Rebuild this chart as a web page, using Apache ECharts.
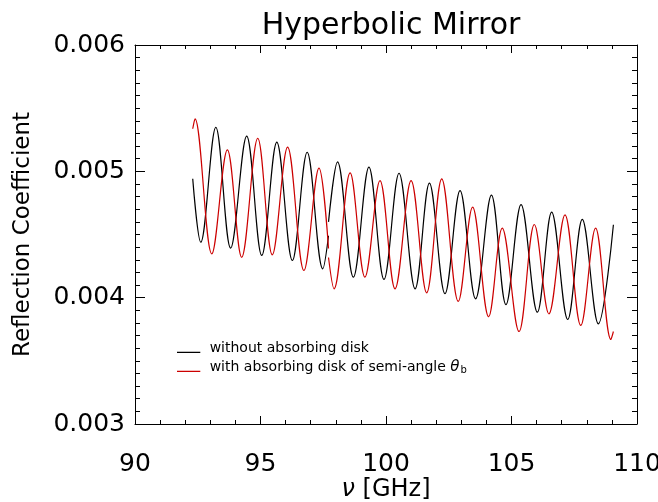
<!DOCTYPE html>
<html>
<head>
<meta charset="utf-8">
<script src="https://cdn.jsdelivr.net/npm/echarts@6/dist/echarts.min.js"></script>
<style>
html,body{margin:0;padding:0;background:#fff;}
#chart{width:658px;height:502px;}
</style>
</head>
<body>
<div id="chart"></div>
<script>
// ---- data ----
var chartTitle = 'Hyperbolic Mirror';
var xName = '{i|ν} [GHz]';
var yName = 'Reflection Coefficient';
var nameWithout = 'without absorbing disk';
var nameWith = 'with absorbing disk of semi-angle θb';

// black curve (without absorbing disk): frequency [GHz] / reflection coefficient
var freqWithout = [92.30, 92.62, 93.22, 93.81, 94.45, 95.05, 95.65, 96.27, 96.86, 97.48, 97.71,
  97.71, 97.71, 98.07, 98.70, 99.32, 99.92, 100.52, 101.16, 101.73, 102.35, 102.95, 103.57,
  104.20, 104.78, 105.38, 106.03, 106.60, 107.24, 107.82, 108.46, 109.06];
var reflWithout = [0.004941, 0.004439, 0.005349, 0.004392, 0.005278, 0.004334, 0.005231, 0.004294, 0.005151, 0.004228, 0.004490,
  null, 0.004600, 0.005075, 0.004162, 0.005033, 0.004144, 0.004985, 0.004070, 0.004906, 0.004031, 0.004848, 0.003991,
  0.004811, 0.003944, 0.004737, 0.003885, 0.004677, 0.003827, 0.004619, 0.003793, 0.004577];

// red curve (with absorbing disk)
var freqWith = [92.30, 92.39, 93.06, 93.68, 94.25, 94.89, 95.47, 96.08, 96.73, 97.33, 97.71,
  97.71, 97.71, 97.93, 98.57, 99.16, 99.76, 100.36, 101.00, 101.62, 102.22, 102.88, 103.45,
  104.09, 104.63, 105.30, 105.91, 106.49, 107.13, 107.76, 108.35, 108.96, 109.06];
var reflWith = [0.005337, 0.005416, 0.004347, 0.005170, 0.004320, 0.005262, 0.004339, 0.005191, 0.004215, 0.005025, 0.004389,
  null, 0.004318, 0.004070, 0.004988, 0.004162, 0.004927, 0.004070, 0.004927, 0.004038, 0.004941, 0.003970, 0.004716,
  0.003849, 0.004550, 0.003732, 0.004579, 0.003872, 0.004656, 0.003780, 0.004550, 0.003669, 0.003732];

var xTickMin = 90, xTickMax = 110, xTickStep = 5;
var yTickMin = 0.003, yTickMax = 0.006, yTickStep = 0.001;

function pairs(xs, ys) {
  return xs.map(function (x, i) { return [x, ys[i] === null ? '-' : ys[i]]; });
}

var FONT = 'DejaVu Sans';
var chart = echarts.init(document.getElementById('chart'), null, {renderer: 'canvas'});

function xAxisCfg(pos, showLabels) {
  return {
    type: 'value', position: pos, min: xTickMin, max: xTickMax, interval: xTickStep,
    axisLine: {show: true, onZero: false, lineStyle: {color: '#000', width: 1}},
    axisTick: {show: true, inside: true, length: 8, lineStyle: {color: '#000', width: 1}},
    minorTick: {show: true, splitNumber: 5, length: 4, lineStyle: {color: '#000', width: 1}},
    splitLine: {show: false},
    axisLabel: {show: showLabels, color: '#000', fontSize: 25, fontFamily: FONT, margin: 28},
    name: showLabels ? xName : '',
    nameLocation: 'middle', nameGap: 54, nameMoveOverlap: false,
    nameTextStyle: {color: '#000', fontSize: 24, fontFamily: FONT,
      rich: {i: {fontSize: 24, fontFamily: FONT, fontStyle: 'italic', color: '#000'}}}
  };
}
function yAxisCfg(pos, showLabels) {
  return {
    type: 'value', position: pos, min: yTickMin, max: yTickMax, interval: yTickStep,
    axisLine: {show: true, onZero: false, lineStyle: {color: '#000', width: 1}},
    axisTick: {show: true, inside: true, length: 10, lineStyle: {color: '#000', width: 1}},
    minorTick: {show: true, splitNumber: 10, length: 5, lineStyle: {color: '#000', width: 1}},
    splitLine: {show: false},
    axisLabel: {show: showLabels, color: '#000', fontSize: 25, fontFamily: FONT, margin: 10,
      formatter: function (v) { return v.toFixed(3); }},
    name: showLabels ? yName : '',
    nameLocation: 'middle', nameGap: 100, nameMoveOverlap: false,
    nameTextStyle: {color: '#000', fontSize: 23, fontFamily: FONT}
  };
}

var option = {
  backgroundColor: '#fff',
  animation: false,
  title: {
    text: chartTitle, left: 386, top: 6, textAlign: 'center',
    textStyle: {color: '#000', fontSize: 30, fontWeight: 'normal', fontFamily: FONT}
  },
  grid: {left: 135, right: 21, top: 45, bottom: 78, containLabel: false, outerBoundsMode: 'none'},
  xAxis: [xAxisCfg('bottom', true), xAxisCfg('top', false)],
  yAxis: [yAxisCfg('left', true), yAxisCfg('right', false)],
  legend: {
    orient: 'vertical', left: 172, top: 336, itemGap: 3,
    itemWidth: 24, itemHeight: 10,
    icon: 'path://M0,0L0,0M0,9L24,9L24,10.3L0,10.3Z',
    itemStyle: {borderWidth: 0},
    data: [nameWithout, nameWith],
    formatter: function (n) {
      if (n === nameWith) return '{t|with absorbing disk of semi-angle }{th|θ}{sub|b}';
      return '{t|' + n + '}';
    },
    textStyle: {
      color: '#000', fontFamily: FONT, fontSize: 14, padding: [0, 0, 0, 4],
      rich: {
        t: {fontSize: 14, fontFamily: FONT, color: '#000', lineHeight: 16},
        th: {fontSize: 15, fontFamily: FONT, fontStyle: 'italic', color: '#000', lineHeight: 16},
        sub: {fontSize: 10, fontFamily: FONT, color: '#000', verticalAlign: 'bottom', padding: [7, 0, 0, 1], lineHeight: 10}
      }
    }
  },
  series: [
    {
      name: nameWithout, type: 'line', xAxisIndex: 0, yAxisIndex: 0,
      data: pairs(freqWithout, reflWithout), showSymbol: false, smooth: 0.36,
      connectNulls: false, color: '#000000',
      lineStyle: {color: '#000000', width: 1.2}
    },
    {
      name: nameWith, type: 'line', xAxisIndex: 0, yAxisIndex: 0,
      data: pairs(freqWith, reflWith), showSymbol: false, smooth: 0.36,
      connectNulls: false, color: '#cc0000',
      lineStyle: {color: '#cc0000', width: 1.2}
    }
  ]
};
chart.setOption(option);
</script>
</body>
</html>
